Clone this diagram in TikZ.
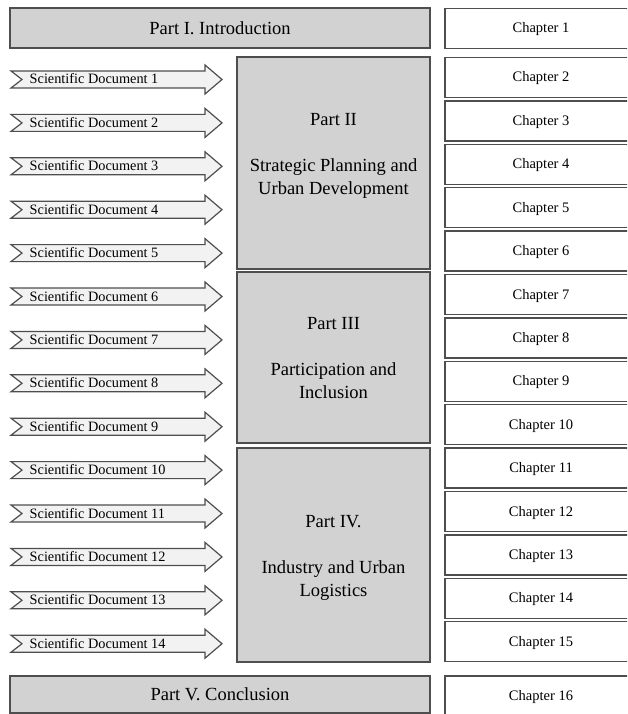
\documentclass[tikz,border=0pt]{standalone}
\usepackage{fontspec}
\setmainfont{Liberation Serif}
\definecolor{edge}{RGB}{78,78,78}
\definecolor{partfill}{RGB}{210,210,210}
\definecolor{arrowfill}{RGB}{242,242,242}
\begin{document}
\begin{tikzpicture}[x=1pt,y=-1pt,
  partbox/.style={draw=edge,fill=partfill,line width=1.4pt,inner sep=0pt,
    text height=12.5pt,text depth=0pt,font=\fontsize{18.5}{23}\selectfont},
  chapbox/.style={draw=edge,fill=white,line width=1.3pt,inner sep=0pt,
    minimum width=192pt,minimum height=40pt,text height=9pt,text depth=0pt,
    font=\fontsize{14.5}{17}\selectfont},
  parttext/.style={align=center,inner sep=0pt,font=\fontsize{18.5}{23}\selectfont},
  docarrow/.style={draw=edge,fill=arrowfill,line width=1.2pt,line join=miter},
  doctext/.style={anchor=west,inner sep=0pt,text height=9pt,text depth=0pt,
    font=\fontsize{14.3}{16}\selectfont}]
\useasboundingbox (0,0) rectangle (627,714);
\clip (0,0) rectangle (627,714);

% parts on the left
\node[partbox,minimum width=420pt,minimum height=40pt] (p1) at (220,28) {Part I. Introduction};
\node[partbox,minimum width=193pt,minimum height=212pt] (p2) at (333.5,163) {};
\node[partbox,minimum width=193pt,minimum height=171pt] (p3) at (333.5,357.5) {};
\node[partbox,minimum width=193pt,minimum height=214pt] (p4) at (333.5,555) {};
\node[partbox,minimum width=420pt,minimum height=37pt] (p5) at (220,694.5) {Part V. Conclusion};

\node[parttext] (p2t) at (333.5,156) {Part II\\[23pt]Strategic Planning and\\Urban Development};
\node[parttext] (p3t) at (333.5,358) {Part III\\[23pt]Participation and\\Inclusion};
\node[parttext] (p4t) at (333.5,558) {Part IV.\\[23pt]Industry and Urban\\Logistics};

% chapter column
\node[chapbox] (c1) at (541,28.5) {Chapter 1};
\foreach \k in {2,...,15}{
  \node[chapbox] (c\k) at (541,{77.5+(\k-2)*43.4}) {Chapter \k};
}
\node[chapbox] (c16) at (541,696) {Chapter 16};

% scientific documents feeding the parts
\foreach \i in {1,...,14}{
  \pgfmathsetmacro{\yc}{79.5+(\i-1)*43.4}
  \draw[docarrow] (11,\yc-8.5) -- (205,\yc-8.5) -- (205,\yc-14.5) -- (222,\yc)
    -- (205,\yc+14.5) -- (205,\yc+8.5) -- (11,\yc+8.5) -- (22,\yc) -- cycle;
  \node[doctext] (d\i) at (29.5,\yc) {Scientific Document \i};
}
\end{tikzpicture}
\end{document}
